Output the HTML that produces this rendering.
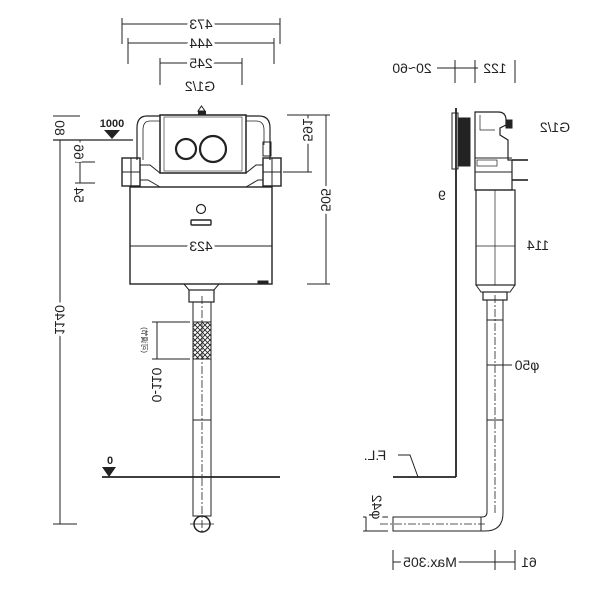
<!DOCTYPE html>
<html><head><meta charset="utf-8"><style>
html,body{margin:0;padding:0;background:#fff}
svg{display:block}
text{font-family:"Liberation Sans","Noto Sans CJK SC",sans-serif;fill:#222}
.t text{stroke:#fff;stroke-width:6px;paint-order:stroke;stroke-linejoin:round}
</style></head><body>
<svg width="600" height="600" viewBox="0 0 600 600" xmlns="http://www.w3.org/2000/svg">
<defs>
<pattern id="hx" width="5" height="5" patternUnits="userSpaceOnUse">
<path d="M0 0L5 5M5 0L0 5" stroke="#222" stroke-width="0.9"/>
</pattern>
</defs>
<g stroke="#222" fill="none" stroke-width="1">
<line x1="122" y1="24" x2="280" y2="24"/><line x1="122" y1="18" x2="122" y2="44"/><line x1="280" y1="18" x2="280" y2="44"/>
<line x1="128" y1="43" x2="274" y2="43"/><line x1="128" y1="38" x2="128" y2="64"/><line x1="274" y1="38" x2="274" y2="64"/>
<line x1="160" y1="63" x2="242" y2="63"/><line x1="160" y1="58" x2="160" y2="85"/><line x1="242" y1="58" x2="242" y2="85"/>
<rect x="160" y="115" width="86" height="58" stroke-width="1.5"/>
<rect x="164" y="117" width="78" height="54" stroke-width="0.6"/>
<circle cx="186" cy="149" r="10" stroke-width="2.2"/>
<circle cx="213" cy="149" r="13" stroke-width="2.2"/>
<path d="M160 116 H147 Q137 116 137 128 V160" stroke-width="1.2"/>
<path d="M160 121 H150 Q143 121 143 130 V160" stroke-width="0.8"/>
<path d="M246 116 H259 Q270 116 270 128 V160" stroke-width="1.2"/>
<path d="M246 121 H256 Q264 121 264 130 V145" stroke-width="0.8"/>
<rect x="263" y="142" width="8" height="14"/>
<rect x="122" y="158" width="18" height="28" stroke-width="1.4"/>
<line x1="122" y1="172" x2="140" y2="172"/><line x1="131" y1="158" x2="131" y2="186"/>
<rect x="263" y="158" width="18" height="28" stroke-width="1.4"/>
<line x1="263" y1="172" x2="281" y2="172"/><line x1="272" y1="158" x2="272" y2="186"/>
<path d="M140 165 L150 165 L160 173 M246 173 L256 165 L263 165"/>
<path d="M140 180 L148 180 L160 187 M246 187 L258 180 L263 180"/>
<rect x="130" y="187" width="142" height="97" stroke-width="1.4"/>
<circle cx="201" cy="209" r="4.5" stroke-width="1.2"/>
<rect x="191" y="220" width="20" height="5" rx="1" stroke-width="1.4"/>
<line x1="130" y1="246" x2="272" y2="246"/>
<rect x="258" y="281" width="10" height="3" fill="#222"/>
<path d="M184 284 L189 290 H214 L219 284"/>
<rect x="189" y="290" width="25" height="12" stroke-width="1.2"/>
<rect x="193" y="302" width="18" height="214" stroke-width="1"/>
<rect x="193" y="322" width="18" height="37" fill="url(#hx)"/>
<line x1="193" y1="420" x2="211" y2="420"/>
<circle cx="202" cy="524" r="8" stroke-width="1.5"/>
<line x1="202" y1="296" x2="202" y2="534" stroke-dasharray="8 2 2 2" stroke-width="0.8"/>
<line x1="190" y1="524" x2="214" y2="524" stroke-width="0.8"/>
<line x1="157" y1="322" x2="157" y2="359"/><line x1="152" y1="322" x2="190" y2="322"/><line x1="152" y1="359" x2="190" y2="359"/>
<line x1="102" y1="477" x2="280" y2="477" stroke-width="1.8"/>
<line x1="60" y1="140" x2="60" y2="524"/><line x1="53" y1="524" x2="77" y2="524"/>
<line x1="53" y1="140" x2="133" y2="140" stroke-width="1.2"/>
<line x1="53" y1="116" x2="80" y2="116"/>
<line x1="80" y1="140" x2="80" y2="183"/><line x1="75" y1="162" x2="95" y2="162"/><line x1="75" y1="183" x2="95" y2="183"/>
<line x1="287" y1="115" x2="330" y2="115"/><line x1="326" y1="115" x2="326" y2="284"/><line x1="307" y1="284" x2="330" y2="284"/>
<line x1="308" y1="115" x2="308" y2="172"/><line x1="283" y1="172" x2="312" y2="172"/>
<line x1="456" y1="108" x2="456" y2="477" stroke-width="1.8"/>
<line x1="393" y1="477" x2="456" y2="477" stroke-width="1.8"/>
<path d="M398 455 H410 L418 477"/>
<rect x="452" y="113" width="6" height="56"/>
<rect x="458" y="118" width="12" height="48" fill="#222"/>
<path d="M475 112 H498 Q506 112 506 120 V125 L500 128 V135 L508 140 V160 H512 V190 H475 Z" stroke-width="1.2"/>
<path d="M480 115 V130 H495" stroke-width="0.7"/>
<rect x="506" y="120" width="6" height="8" fill="#222"/>
<line x1="475" y1="158" x2="512" y2="158"/><line x1="475" y1="172" x2="512" y2="172"/>
<rect x="477" y="160" width="20" height="6" stroke-width="0.7"/>
<line x1="512" y1="160" x2="528" y2="160" stroke-width="1.6"/><line x1="512" y1="180" x2="528" y2="180" stroke-width="1.6"/>
<rect x="476" y="190" width="39" height="95" stroke-width="1.2"/>
<line x1="495" y1="190" x2="495" y2="285" stroke-width="0.7"/>
<line x1="476" y1="246" x2="515" y2="246" stroke-width="0.7"/>
<path d="M476 285 L481 292 H510 L515 285"/>
<rect x="483" y="292" width="24" height="8" stroke-width="1.2"/>
<path d="M487 300 V512 Q487 517 482 517 H393 V531 H485 Q503 531 503 513 V300"/>
<line x1="487" y1="320" x2="503" y2="320"/><line x1="487" y1="420" x2="503" y2="420"/>
<line x1="481" y1="517" x2="481" y2="531"/>
<line x1="495" y1="295" x2="495" y2="515" stroke-dasharray="8 2 2 2" stroke-width="0.8"/>
<line x1="380" y1="524" x2="485" y2="524" stroke-dasharray="8 2 2 2" stroke-width="0.8"/>
<line x1="487" y1="365" x2="512" y2="365"/>
<line x1="363" y1="517" x2="388" y2="517"/><line x1="363" y1="531" x2="388" y2="531"/><line x1="366" y1="517" x2="366" y2="531"/>
<line x1="393" y1="550" x2="393" y2="570"/><line x1="495" y1="550" x2="495" y2="570"/><line x1="515" y1="550" x2="515" y2="570"/>
<line x1="393" y1="562" x2="515" y2="562"/>
<line x1="455" y1="60" x2="455" y2="83"/><line x1="475" y1="60" x2="475" y2="83"/><line x1="515" y1="60" x2="515" y2="83"/>
<line x1="437" y1="68" x2="478" y2="68"/>
<line x1="445" y1="190" x2="445" y2="200"/>
</g>
<polygon points="104,130 120,130 112,139" fill="#222"/>
<polygon points="102,467 116,467 109,477" fill="#222"/>
<polygon points="198,111 205,111 201.5,106" fill="none" stroke="#222"/>
<rect x="198" y="111" width="8" height="4" fill="#222"/>
<g font-size="14" class="t">
<text transform="translate(201,29) scale(-1,1)" text-anchor="middle">473</text>
<text transform="translate(201,48) scale(-1,1)" text-anchor="middle">444</text>
<text transform="translate(201,68) scale(-1,1)" text-anchor="middle">245</text>
<text transform="translate(200,91) scale(-1,1)" text-anchor="middle">G1/2</text>
<text transform="translate(201,251) scale(-1,1)" text-anchor="middle">423</text>
<text transform="translate(555,132) scale(-1,1)" text-anchor="middle">G1/2</text>
<text transform="translate(412,73) scale(-1,1)" text-anchor="middle">20~60</text>
<text transform="translate(495,73) scale(-1,1)" text-anchor="middle">122</text>
<text transform="translate(538,250) scale(-1,1)" text-anchor="middle">114</text>
<text transform="translate(527,370) scale(-1,1)" text-anchor="middle">φ50</text>
<text transform="translate(375,460) scale(-1,1)" text-anchor="middle">F.L.</text>
<text transform="translate(430,567) scale(-1,1)" text-anchor="middle">Max.305</text>
<text transform="translate(529,567) scale(-1,1)" text-anchor="middle">61</text>
<text transform="translate(442,200) scale(-1,1)" text-anchor="middle">9</text>
<text transform="translate(55,320) rotate(90) scale(-1,1)" text-anchor="middle">1140</text>
<text transform="translate(321,200) rotate(90) scale(-1,1)" text-anchor="middle">505</text>
<text transform="translate(303,130) rotate(90) scale(-1,1)" text-anchor="middle">591</text>
<text transform="translate(55,128) rotate(90) scale(-1,1)" text-anchor="middle">80</text>
<text transform="translate(74,152) rotate(90) scale(-1,1)" text-anchor="middle">66</text>
<text transform="translate(74,195) rotate(90) scale(-1,1)" text-anchor="middle">54</text>
<text transform="translate(152,385) rotate(90) scale(-1,1)" text-anchor="middle">0-110</text>
<text transform="translate(372,507) rotate(90) scale(-1,1)" text-anchor="middle">φ42</text>
</g>
<text x="112" y="127" font-size="11" font-weight="bold" text-anchor="middle">1000</text>
<text x="110" y="464" font-size="11" font-weight="bold" text-anchor="middle">0</text>
<text transform="translate(142,340) rotate(90) scale(-1,1)" font-size="7" text-anchor="middle">(可调节)</text>
</svg>
</body></html>
